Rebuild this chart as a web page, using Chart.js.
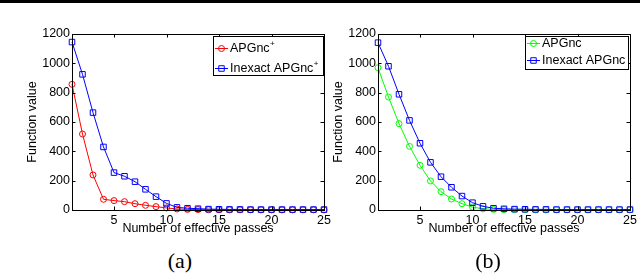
<!DOCTYPE html>
<html>
<head>
<meta charset="utf-8">
<script src="https://cdn.jsdelivr.net/npm/chart.js@4.4.7/dist/chart.umd.min.js"></script>
<style>
  body { margin: 0; background: #fff; }
  #wrap { position: relative; width: 640px; height: 277px; overflow: hidden; }
  #bar { position: absolute; left: 0; top: 0; width: 640px; height: 3px; background: #000; }
  canvas { position: absolute; top: 0; }
  .cap { position: absolute; top: 248px; font-family: "Liberation Serif", serif; font-size: 22px; width: 60px; text-align: center; line-height: 26px; }
</style>
</head>
<body>
<div id="wrap">
  <div id="bar"></div>
  <canvas id="wykresA" width="335" height="240" style="left:0px"></canvas>
  <canvas id="wykresB" width="320" height="240" style="left:320px"></canvas>
  <div class="cap" style="left:150px">(a)</div>
  <div class="cap" style="left:458px">(b)</div>
</div>
<script>
// dane
const passes = [1,2,3,4,5,6,7,8,9,10,11,12,13,14,15,16,17,18,19,20,21,22,23,24,25];
const apgncPlus = [857,518,239,73,64,57,43,32,23,14,7,4,3,2,2,1,1,1,1,1,1,1,1,1,1];
const inexactPlus = [1145,925,664,430,255,230,193,141,91,45,18,12,9,6,5,4,4,3,3,3,3,3,3,3,3];
const apgnc = [970,770,589,434,305,198,125,75,43,20,8,4,3,2,2,1,1,1,1,1,1,1,1,1,1];
const inexact = [1141,980,789,611,455,325,227,155,95,50,25,12,8,6,5,4,4,3,3,3,3,3,3,3,3];
const xTicks = [5,10,15,20,25];
const yTicks = [0,200,400,600,800,1000,1200];

const FONT = "Liberation Sans";

function pts(ys) {
    return passes.map((x, i) => ({ x: x, y: ys[i] }));
}

function seria(label, sup, ys, color, style, order) {
    return {
        label: label,
        sup: sup,
        data: pts(ys),
        showLine: true,
        borderColor: color,
        backgroundColor: "rgba(0,0,0,0)",
        borderWidth: 1,
        pointStyle: style,
        pointRadius: style == "rect" ? 3.9 : 3,
        pointBorderWidth: 1,
        pointBorderColor: color,
        pointBackgroundColor: "rgba(0,0,0,0)",
        clip: false,
        order: order
    };
}

// ramka + male kreski do srodka jak w matlabie
const ramka = {
    id: "ramka",
    afterDraw(chart) {
        const c = chart.ctx, a = chart.chartArea;
        const sx = chart.scales.x, sy = chart.scales.y;
        c.save();
        c.strokeStyle = "#000";
        c.lineWidth = 1;
        c.strokeRect(Math.round(a.left) + 0.5, Math.round(a.top) + 0.5, Math.round(a.right - a.left), Math.round(a.bottom - a.top));
        c.beginPath();
        const tl = 3.5;
        xTicks.forEach(v => {
            const px = Math.round(sx.getPixelForValue(v)) + 0.5;
            c.moveTo(px, a.bottom); c.lineTo(px, a.bottom - tl);
            c.moveTo(px, a.top); c.lineTo(px, a.top + tl);
        });
        yTicks.forEach(v => {
            const py = Math.round(sy.getPixelForValue(v)) + 0.5;
            c.moveTo(a.left, py); c.lineTo(a.left + tl, py);
            c.moveTo(a.right, py); c.lineTo(a.right - tl, py);
        });
        c.stroke();
        c.restore();
    }
};

// legenda w rogu wykresu
const legenda = {
    id: "legenda",
    afterDraw(chart, args, o) {
        const c = chart.ctx;
        c.save();
        c.fillStyle = "#fff";
        c.fillRect(o.x, o.y, o.w, o.h);
        c.strokeStyle = "#000";
        c.lineWidth = 1;
        c.strokeRect(o.x + 0.5, o.y + 0.5, o.w, o.h);
        o.kolej.forEach((di, i) => {
            const ds = chart.data.datasets[di];
            const ry = o.rows[i] + 0.5;
            c.strokeStyle = ds.borderColor;
            c.lineWidth = 1;
            c.beginPath();
            c.moveTo(o.x + 2, ry); c.lineTo(o.x + 15, ry);
            c.stroke();
            c.fillStyle = "rgba(0,0,0,0)";
            Chart.helpers.drawPoint(c, { pointStyle: ds.pointStyle, radius: ds.pointRadius, borderWidth: 1, rotation: 0 }, o.x + 8.5, ry);
            c.fillStyle = "#000";
            c.textBaseline = "middle";
            c.font = "12.5px '" + FONT + "'";
            c.fillText(ds.label, o.x + 17, o.rows[i] + 1);
            if (ds.sup) {
                const w = c.measureText(ds.label).width;
                c.font = "8px '" + FONT + "'";
                c.fillText(ds.sup, o.x + 17 + w + 0.5, o.rows[i] - 4);
            }
        });
        c.restore();
    }
};

function opcje(padLeft, padRight, leg) {
    return {
        responsive: false,
        animation: false,
        devicePixelRatio: 1,
        layout: { padding: { left: padLeft, right: padRight, top: 34, bottom: 0 } },
        plugins: {
            legend: { display: false },
            tooltip: { enabled: false },
            legenda: leg
        },
        scales: {
            x: {
                type: "linear",
                min: 1, max: 25,
                grid: { display: false, drawTicks: false },
                border: { display: false },
                afterBuildTicks: s => { s.ticks = xTicks.map(v => ({ value: v })); },
                afterFit: s => { s.height = 30; },
                ticks: { color: "#000", padding: 3, font: { family: FONT, size: 12.5 }, maxRotation: 0, callback: v => String(v) },
                title: { display: true, text: "Number of effective passes", color: "#000", padding: { top: 0, bottom: 3.5 }, font: { family: FONT, size: 12.5 } }
            },
            y: {
                min: 0, max: 1200,
                grid: { display: false, drawTicks: false },
                border: { display: false },
                afterBuildTicks: s => { s.ticks = yTicks.map(v => ({ value: v })); },
                afterFit: s => { s.width = 52; },
                ticks: { color: "#000", padding: 2, font: { family: FONT, size: 12.5 }, callback: v => String(v) },
                title: { display: true, text: "Function value", color: "#000", padding: { top: 5.5, bottom: 0 }, font: { family: FONT, size: 12.5 } }
            }
        }
    };
}

const wykresA = new Chart(document.getElementById("wykresA").getContext("2d"), {
    type: "scatter",
    data: {
        datasets: [
            seria("APGnc", "+", apgncPlus, "#ff0000", "circle", 1),
            seria("Inexact APGnc", "+", inexactPlus, "#0000ff", "rect", 0)
        ]
    },
    options: opcje(20, 11, { x: 213, y: 36, w: 110, h: 39, rows: [48, 68], kolej: [0, 1] }),
    plugins: [ramka, legenda]
});

const wykresB = new Chart(document.getElementById("wykresB").getContext("2d"), {
    type: "scatter",
    data: {
        datasets: [
            seria("APGnc", "", apgnc, "#00ff00", "circle", 1),
            seria("Inexact APGnc", "", inexact, "#0000ff", "rect", 0)
        ]
    },
    options: opcje(6, 10, { x: 205, y: 36, w: 103, h: 33, rows: [43, 60], kolej: [0, 1] }),
    plugins: [ramka, legenda]
});
</script>
</body>
</html>
